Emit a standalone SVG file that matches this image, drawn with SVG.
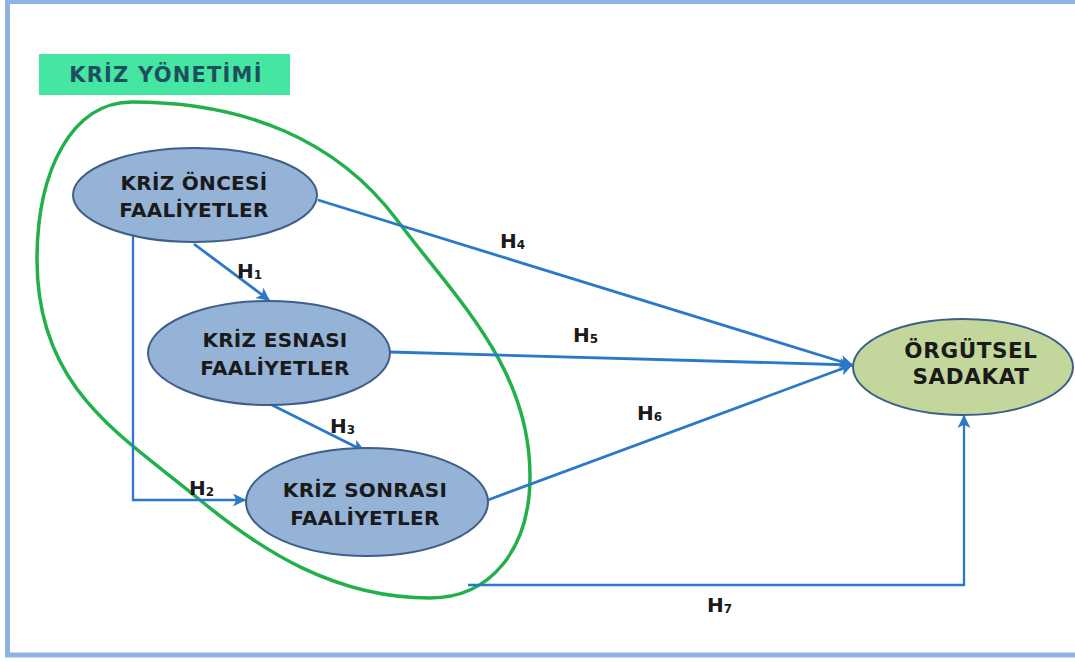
<svg xmlns="http://www.w3.org/2000/svg" width="1075" height="662" viewBox="0 0 1075 662">
  <defs>
    <style>
      .frame { fill: #ffffff; stroke: #8db4e2; stroke-width: 5; }
      .group-label-bg { fill: #45e6a2; }
      .group-label { font-family: "DejaVu Sans", "Open Sans", sans-serif; font-weight: bold; font-size: 21px; letter-spacing: 1.2px; fill: #1f4f5f; text-anchor: middle; }
      .group-outline { fill: none; stroke: #22b04a; stroke-width: 3.5; }
      .node { fill: #95b3d7; stroke: #3e5f8a; stroke-width: 2; }
      .node-out { fill: #c3d69b; stroke: #3e5f8a; stroke-width: 2; }
      .node-text { font-family: "DejaVu Sans", "Open Sans", sans-serif; font-weight: bold; font-size: 20px; letter-spacing: 0.3px; fill: #1a1a1a; text-anchor: middle; }
      .big { font-size: 21.5px; letter-spacing: 0.6px; }
      .link { fill: none; stroke: #2a78c8; stroke-width: 2.8; }
      .link-thin { fill: none; stroke: #2a78c8; stroke-width: 2.3; }
      .hlabel { font-family: "DejaVu Sans", "Open Sans", sans-serif; font-weight: bold; font-size: 20px; fill: #1a1a1a; }
      .sub { font-size: 12px; }
    </style>
    <marker id="arrow" viewBox="0 0 12 12" refX="11" refY="6" markerWidth="13" markerHeight="13" markerUnits="userSpaceOnUse" orient="auto">
      <path d="M0,0 L12,6 L0,12 L3,6 z" fill="#2a78c8"/>
    </marker>
  </defs>

  <!-- outer frame -->
  <rect class="frame" x="7.5" y="1.5" width="1100" height="653.5"/>

  <!-- group title and its outline -->
  <g id="kriz-yonetimi">
    <rect class="group-label-bg" x="39" y="54" width="251" height="41"/>
    <text class="group-label" x="166" y="82">KRİZ YÖNETİMİ</text>
    <path class="group-outline" d="M132,102 C245,102 337,140 397,220 C457,300 530,368 530,476 C530,550 490,598 430,598 C335,598 262,551 200,500 C123,436 37,390 37,260 C37,170 72,102 132,102 Z"/>
  </g>

  <!-- connectors -->
  <g id="connectors">
    <path class="link" d="M318,200 L852,365" marker-end="url(#arrow)"/>
    <path class="link" d="M390,352 L852,365" marker-end="url(#arrow)"/>
    <path class="link" d="M488,500 L852,365" marker-end="url(#arrow)"/>
    <path class="link" d="M194,244 L269,300" marker-end="url(#arrow)"/>
    <path class="link" d="M272,405 L364,451" marker-end="url(#arrow)"/>
    <path class="link-thin" d="M133,236 L133,500 L245,500" marker-end="url(#arrow)"/>
    <path class="link-thin" d="M468,585 L964,585 L964,416" marker-end="url(#arrow)"/>

    <text class="hlabel" x="237" y="278">H<tspan class="sub" dy="1">1</tspan></text>
    <text class="hlabel" x="189" y="495">H<tspan class="sub" dy="1">2</tspan></text>
    <text class="hlabel" x="330" y="433">H<tspan class="sub" dy="1">3</tspan></text>
    <text class="hlabel" x="500" y="248">H<tspan class="sub" dy="1">4</tspan></text>
    <text class="hlabel" x="573" y="342">H<tspan class="sub" dy="1">5</tspan></text>
    <text class="hlabel" x="637" y="420">H<tspan class="sub" dy="1">6</tspan></text>
    <text class="hlabel" x="707" y="612">H<tspan class="sub" dy="1">7</tspan></text>
  </g>

  <!-- nodes -->
  <g id="kriz-oncesi">
    <ellipse class="node" cx="195" cy="195" rx="122" ry="47"/>
    <text class="node-text" x="194" y="190">KRİZ ÖNCESİ</text>
    <text class="node-text" x="194" y="217">FAALİYETLER</text>
  </g>
  <g id="kriz-esnasi">
    <ellipse class="node" cx="269" cy="353" rx="121" ry="52"/>
    <text class="node-text" x="275" y="347">KRİZ ESNASI</text>
    <text class="node-text" x="275" y="375">FAALİYETLER</text>
  </g>
  <g id="kriz-sonrasi">
    <ellipse class="node" cx="367" cy="502" rx="121" ry="54"/>
    <text class="node-text" x="365" y="497">KRİZ SONRASI</text>
    <text class="node-text" x="365" y="525">FAALİYETLER</text>
  </g>
  <g id="orgutsel-sadakat">
    <ellipse class="node-out" cx="963" cy="367" rx="110" ry="48"/>
    <text class="node-text big" x="971" y="358">ÖRGÜTSEL</text>
    <text class="node-text big" x="971" y="384">SADAKAT</text>
  </g>
</svg>
